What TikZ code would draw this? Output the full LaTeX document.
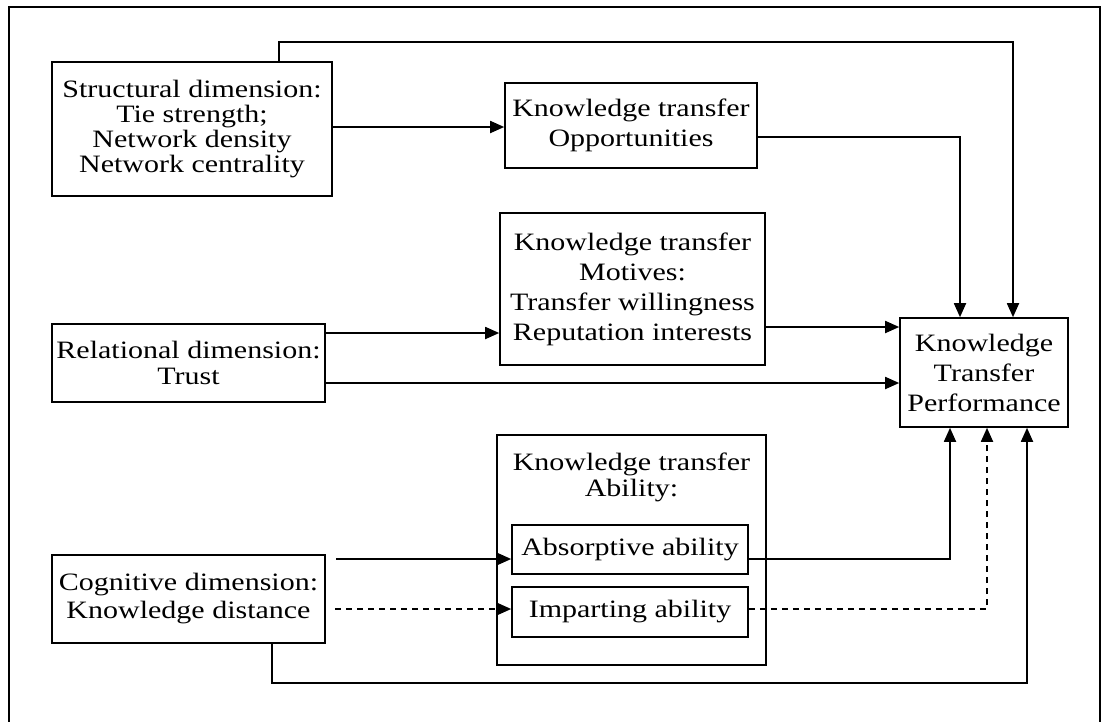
\documentclass[tikz,border=0pt]{standalone}
\usepackage{fontspec}
\setmainfont[FakeStretch=1.2]{Liberation Serif}
\usetikzlibrary{arrows.meta}
\begin{document}
\begin{tikzpicture}[x=1pt,y=-1pt,
  box/.style={draw, line width=1.6pt, inner sep=0pt, align=center,
    font=\fontsize{25}{30}\selectfont},
  lbl/.style={inner sep=0pt, align=center, font=\fontsize{25}{30}\selectfont},
  link/.style={line width=1.8pt, -{Triangle[length=14pt,width=12pt]}},
  dotlink/.style={link, dash pattern=on 6pt off 5pt},
  plain/.style={line width=1.8pt}]
\useasboundingbox (0,0) rectangle (1101,721);
\fill[white] (0,0) rectangle (1101,721);
% outer frame
\draw[line width=2pt] (9,725) -- (9,7) -- (1100,7) -- (1100,725);

% boxes
\node[box, minimum width=280pt, minimum height=134pt, font=\fontsize{25}{25}\selectfont]
  (struct) at (192,129) {Structural dimension:\\Tie strength;\\Network density\\Network centrality};
\node[box, minimum width=252pt, minimum height=85pt] (opp) at (631,125.5)
  {Knowledge transfer\\Opportunities};
\node[box, minimum width=265pt, minimum height=152pt] (mot) at (632.5,289)
  {Knowledge transfer\\Motives:\\Transfer willingness\\Reputation interests};
\node[box, minimum width=273pt, minimum height=78pt, font=\fontsize{25}{26}\selectfont]
  (rel) at (188.5,363) {Relational dimension:\\Trust};
\node[box, minimum width=168pt, minimum height=109pt] (ktp) at (984,372.5)
  {Knowledge\\Transfer\\Performance};
\node[box, minimum width=269pt, minimum height=230pt] (abil) at (631.5,550) {};
\node[lbl, font=\fontsize{25}{26}\selectfont] (abiltxt) at (631.5,477) {Knowledge transfer\\Ability:};
\node[box, minimum width=236pt, minimum height=49pt] (abs) at (630,549.5) {Absorptive ability};
\node[box, minimum width=236pt, minimum height=50pt] (imp) at (630,612) {Imparting ability};
\node[box, minimum width=273pt, minimum height=88pt, font=\fontsize{25}{28}\selectfont]
  (cog) at (188.5,599) {Cognitive dimension:\\Knowledge distance};

% free starting points of the two lines beside the cognitive box
\coordinate (cogA) at (336,559);
\coordinate (cogB) at (335,609);

% connectors
\draw[link] (struct.north -| 279,0) -- (279,42) -- (1013,42) -- (ktp.north -| 1013,0);
\draw[link] (struct.east |- 0,127) -- (opp.west |- 0,127);
\draw[link] (opp.east |- 0,137) -- (960,137) -- (ktp.north -| 960,0);
\draw[link] (rel.east |- 0,333) -- (mot.west |- 0,333);
\draw[link] (rel.east |- 0,383) -- (ktp.west |- 0,383);
\draw[link] (mot.east |- 0,327) -- (ktp.west |- 0,327);
\draw[link] (cogA) -- (abs.west |- cogA);
\draw[link] (abs.east |- 0,559) -- (950,559) -- (ktp.south -| 950,0);
\draw[dotlink] (cogB) -- (imp.west |- cogB);
\draw[dotlink] (imp.east |- 0,609) -- (987,609) -- (ktp.south -| 987,0);
\draw[link] (cog.south -| 272,0) -- (272,683) -- (1027,683) -- (ktp.south -| 1027,0);
\end{tikzpicture}
\end{document}
